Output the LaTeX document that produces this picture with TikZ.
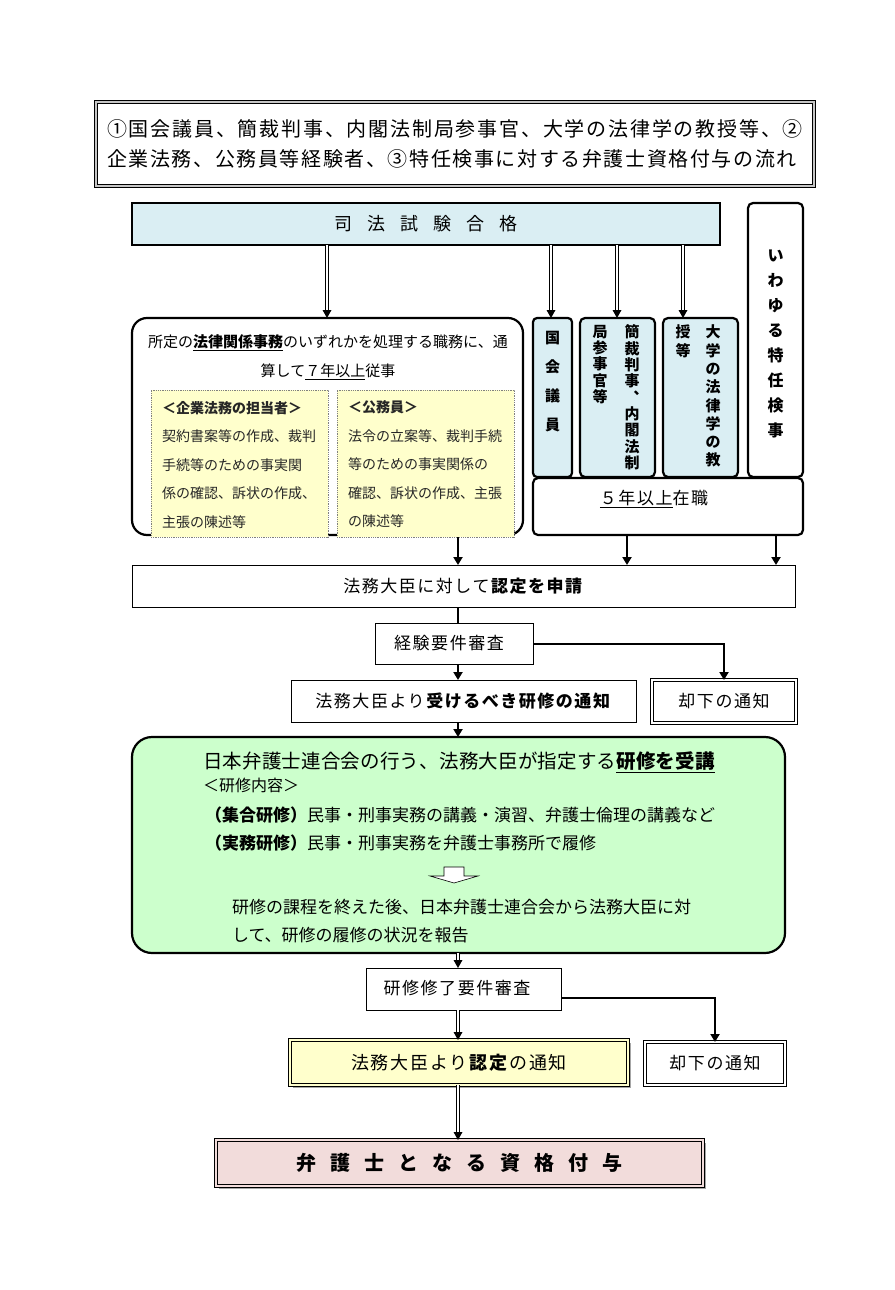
\documentclass[tikz,border=0pt]{standalone}
\usepackage{fontspec}
\setmainfont{Noto Sans CJK JP}
\usetikzlibrary{arrows.meta,shadows,decorations.markings}
\definecolor{sbl}{HTML}{DAEEF3}
\definecolor{ylw}{HTML}{FFFFCC}
\definecolor{grn}{HTML}{CCFFCC}
\definecolor{pnk}{HTML}{F2DCDB}
\newcommand\fsz[1]{\fontsize{#1}{#1}\selectfont}
\begin{document}
\begin{tikzpicture}[x=1pt,y=-1pt,
  every node/.style={inner sep=0pt, outer sep=0pt},
  tbox/.style={draw, line width=2.2pt},
  nbox/.style={draw, line width=1pt},
  dbox/.style={draw, double=white, line width=1.2pt, double distance=2pt},
  ydot/.style={draw=gray, densely dotted, line width=0.8pt, fill=ylw},
  txt/.style={font=\fsz{17}\addfontfeatures{LetterSpace=9}},
  vtxt/.style={anchor=north, align=center},
  gtxt/.style={anchor=west, font=\fsz{17}},
  sarr/.style={line width=2pt, -{Triangle[length=8pt,width=9pt]}},
  sline/.style={line width=2pt},
  darr/.style={double, double distance=2.2pt, line width=0.9pt, shorten >=6pt,
    decoration={markings, mark=at position 1 with {\fill[black] (0pt,0pt) -- (-8pt,4.5pt) -- (-8pt,-4.5pt) -- cycle;}},
    postaction={decorate}},
  shd/.style={drop shadow={shadow xshift=2.5pt, shadow yshift=-2.5pt, fill=black!35, opacity=1}}
]
\fill[white] (0,0) rectangle (894,1290);
\useasboundingbox (0,0) rectangle (894,1290);

% title
\node[draw, line width=0.9pt, double=gray!45, double distance=2.6pt,
  minimum width=718, minimum height=84, align=left,
  font=\fontsize{20}{30}\selectfont] (title) at (455,144)
  {{\addfontfeatures{LetterSpace=9}①国会議員、簡裁判事、内閣法制局参事官、大学の法律学の教授等、②}\\
   {\addfontfeatures{LetterSpace=8}企業法務、公務員等経験者、③特任検事に対する弁護士資格付与の流れ}};

% top
\node[tbox, fill=sbl, minimum width=588, minimum height=42, font=\fsz{18}] (shiho) at (426,224)
  {司\hspace{15pt}法\hspace{15pt}試\hspace{15pt}験\hspace{15pt}合\hspace{15pt}格};

\node[tbox, rounded corners=5pt, minimum width=55, minimum height=274] (tokunin) at (775.5,340) {};
\node[vtxt, font=\bfseries\fontsize{16}{25}\selectfont] (tokunint) at (775.5,250) {い\\わ\\ゆ\\る\\特\\任\\検\\事};

\node[tbox, rounded corners=4pt, fill=sbl, minimum width=39, minimum height=159] (kokkai) at (552.5,397.5) {};
\node[vtxt, font=\bfseries\fontsize{15}{29}\selectfont] (kokkait) at (552.5,331) {国\\会\\議\\員};

\node[tbox, rounded corners=5pt, fill=sbl, minimum width=75, minimum height=159] (kansai) at (617.5,397.5) {};
\node[vtxt, font=\bfseries\fontsize{15}{16.3}\selectfont] (kansai1) at (632,325) {簡\\裁\\判\\事\\︑\\内\\閣\\法\\制};
\node[vtxt, font=\bfseries\fontsize{15}{16.3}\selectfont] (kansai2) at (600,325) {局\\参\\事\\官\\等};

\node[tbox, rounded corners=5pt, fill=sbl, minimum width=75, minimum height=159] (daigaku) at (700.5,397.5) {};
\node[vtxt, font=\bfseries\fontsize{15}{18.3}\selectfont] (daigaku1) at (713,325) {大\\学\\の\\法\\律\\学\\の\\教};
\node[vtxt, font=\bfseries\fontsize{15}{18.3}\selectfont] (daigaku2) at (683,325) {授\\等};

\node[tbox, rounded corners=5pt, minimum width=270, minimum height=57] (sf5) at (668,506.5) {};
\node[txt] (sf5t) at (654,499) {\underline{５年以上}在職};

% left box
\node[tbox, rounded corners=15pt, minimum width=391, minimum height=217] (leftbox) at (327.5,426.5) {};
\node[align=center, font=\fontsize{15}{29}\selectfont] (leftt) at (328,357.5)
  {所定の\underline{\textbf{法律関係事務}}のいずれかを処理する職務に、通\\算して\underline{７年以上}従事};
\node[ydot, minimum width=177, minimum height=147] (ybox1) at (239.5,463.5) {};
\node[ydot, minimum width=177, minimum height=147] (ybox2) at (425.5,463.5) {};
\node[anchor=north west, align=left, text=black!85, font=\fontsize{14}{28.5}\selectfont] (y1t) at (162,401)
  {\textbf{＜企業法務の担当者＞}\\契約書案等の作成、裁判\\手続等のための事実関\\係の確認、訴状の作成、\\主張の陳述等};
\node[anchor=north west, align=left, text=black!85, font=\fontsize{14}{28.5}\selectfont] (y2t) at (348,401)
  {\textbf{＜公務員＞}\\法令の立案等、裁判手続\\等のための事実関係の\\確認、訴状の作成、主張\\の陳述等};

% coordinates for columns
\coordinate (colx) at (458,0);
\coordinate (c2) at (627,0);
\coordinate (c3) at (776,0);
\coordinate (a1) at (327,0);
\coordinate (a2) at (551,0);
\coordinate (a3) at (617,0);
\coordinate (a4) at (683,0);

\draw[darr] (shiho.south -| a1) -- (leftbox.north -| a1);
\draw[darr] (shiho.south -| a2) -- (kokkai.north -| a2);
\draw[darr] (shiho.south -| a3) -- (kansai.north -| a3);
\draw[darr] (shiho.south -| a4) -- (daigaku.north -| a4);

% application
\node[nbox, minimum width=663, minimum height=42, txt] (shinsei) at (463.5,586) {法務大臣に対して\textbf{認定を申請}};
\draw[sarr] (ybox2.south -| colx) -- (shinsei.north -| colx);
\draw[sarr] (sf5.south -| c2) -- (shinsei.north -| c2);
\draw[sarr] (sf5.south -| c3) -- (shinsei.north -| c3);

\node[nbox, minimum width=158, minimum height=41] (kei) at (454,643.5) {};
\node[txt] (keit) at (449,643) {経験要件審査};
\draw[sline] (shinsei.south -| colx) -- (kei.north -| colx);

\node[dbox, minimum width=144, minimum height=43, txt] (kyakka1) at (724,701.5) {却下の通知};
\draw[sarr] (kei.east) -| (kyakka1.north);

\node[nbox, minimum width=345, minimum height=42, txt] (juko) at (463.5,701) {法務大臣より\textbf{受けるべき研修の通知}};
\draw[sarr] (kei.south -| colx) -- (juko.north -| colx);

% green box
\node[tbox, rounded corners=20pt, fill=grn, minimum width=653, minimum height=216] (green) at (458.5,845) {};
\draw[sarr] (juko.south -| colx) -- (green.north -| colx);
\node[font=\fsz{19.5}\addfontfeatures{LetterSpace=1}] (g1) at (459,762) {日本弁護士連合会の行う、法務大臣が指定する\underline{\textbf{研修を受講}}};
\node[anchor=west, font=\fsz{16}] (g2) at (203,785) {＜研修内容＞};
\node[gtxt] (g3) at (205,815) {\textbf{（集合研修）}民事・刑事実務の講義・演習、弁護士倫理の講義など};
\node[gtxt] (g4) at (205,843) {\textbf{（実務研修）}民事・刑事実務を弁護士事務所で履修};
\draw[fill=white, line width=0.6pt] (444,867) -- (464,867) -- (464,876) -- (478,876) -- (454,883) -- (430,876) -- (444,876) -- cycle;
\node[gtxt] (g5) at (232,907) {研修の課程を終えた後、日本弁護士連合会から法務大臣に対};
\node[gtxt] (g6) at (232,935) {して、研修の履修の状況を報告};

% completion
\node[nbox, minimum width=195, minimum height=42] (shuryo) at (463.5,989) {};
\node[txt] (shuryot) at (457,988) {研修修了要件審査};
\draw[darr] (green.south -| colx) -- (shuryo.north -| colx);

\node[dbox, minimum width=140, minimum height=43, txt] (kyakka2) at (715,1063.5) {却下の通知};
\draw[sarr] ([yshift=-9pt]shuryo.east) -| (kyakka2.north);

\node[dbox, double=ylw, fill=ylw, shd, minimum width=338, minimum height=45,
  font=\fsz{18}\addfontfeatures{LetterSpace=10}] (nintei) at (459,1062.5) {法務大臣より\textbf{認定}の通知};
\draw[darr] (shuryo.south -| colx) -- (nintei.north -| colx);

\node[dbox, double=pnk, fill=pnk, shd, minimum width=487, minimum height=46, font=\bfseries\fsz{20}] (shikaku) at (459.5,1163)
  {弁\hspace{14pt}護\hspace{14pt}士\hspace{14pt}と\hspace{14pt}な\hspace{14pt}る\hspace{14pt}資\hspace{14pt}格\hspace{14pt}付\hspace{14pt}与};
\draw[darr] (nintei.south -| colx) -- (shikaku.north -| colx);
\end{tikzpicture}
\end{document}
